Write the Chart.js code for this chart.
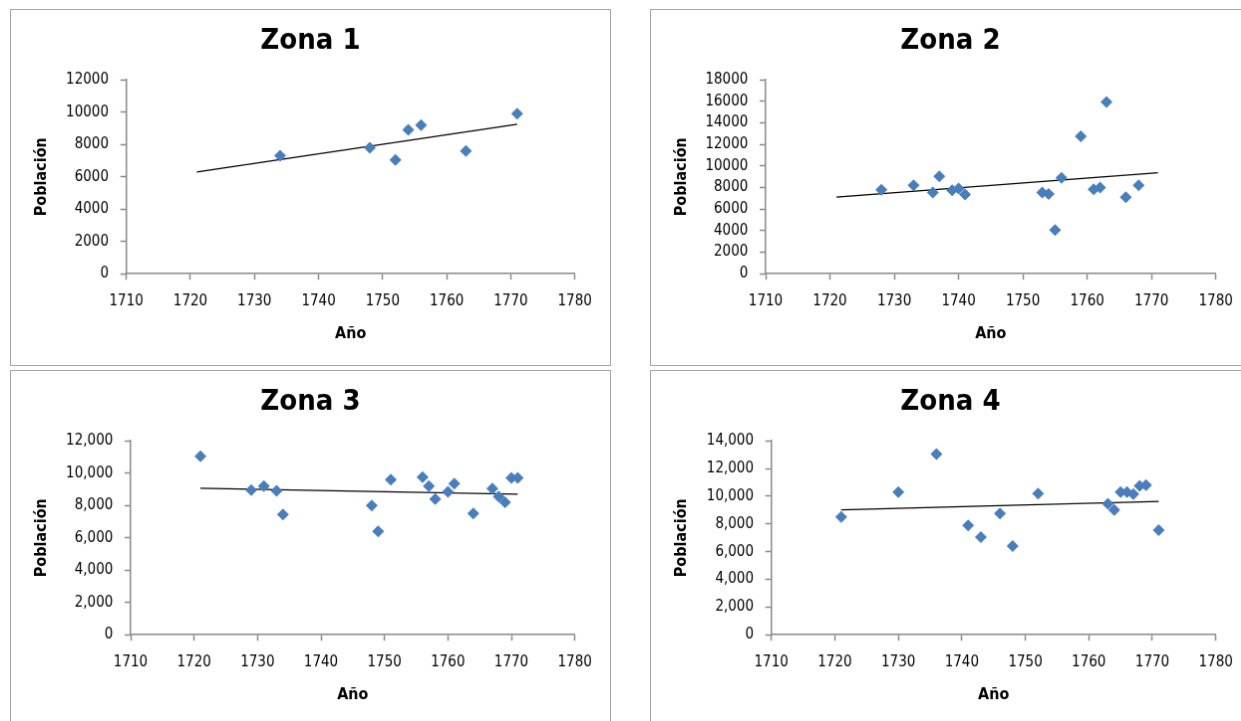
<!DOCTYPE html>
<html><head><meta charset="utf-8">
<script src="https://cdn.jsdelivr.net/npm/chart.js@4.4.0/dist/chart.umd.min.js"></script>
<style>
html,body{margin:0;padding:0;background:#fff;width:1241px;height:721px;overflow:hidden;position:relative}
canvas{position:absolute;border:1px solid #a6a6a6;background:#fff}
</style></head><body>
<canvas id="c1" width="601" height="357" style="left:10px;top:9px"></canvas>
<canvas id="c2" width="601" height="357" style="left:650px;top:9px"></canvas>
<canvas id="c3" width="601" height="357" style="left:10px;top:370px"></canvas>
<canvas id="c4" width="601" height="357" style="left:650px;top:370px"></canvas>
<script>
// ---- data ----
const xTickYears = [1710, 1720, 1730, 1740, 1750, 1760, 1770, 1780];
const trendRange = [1721, 1771];

const zona1Years = [1734, 1748, 1752, 1754, 1756, 1763, 1771];
const zona1Pop   = [7300, 7800, 7050, 8900, 9200, 7600, 9900];
const zona1YTicks = [0, 2000, 4000, 6000, 8000, 10000, 12000];

const zona2Years = [1728, 1733, 1736, 1737, 1739, 1740, 1741, 1753, 1754, 1755, 1756, 1759, 1761, 1762, 1763, 1766, 1768];
const zona2Pop   = [7800, 8200, 7550, 9050, 7750, 7900, 7350, 7550, 7400, 4050, 8900, 12750, 7850, 8000, 15950, 7100, 8200];
const zona2YTicks = [0, 2000, 4000, 6000, 8000, 10000, 12000, 14000, 16000, 18000];

const zona3Years = [1721, 1729, 1731, 1733, 1734, 1748, 1749, 1751, 1756, 1757, 1758, 1760, 1761, 1764, 1767, 1768, 1769, 1770, 1771];
const zona3Pop   = [11050, 8950, 9200, 8900, 7450, 8000, 6400, 9600, 9750, 9200, 8400, 8850, 9350, 7500, 9050, 8550, 8200, 9700, 9700];
const zona3YTicks = [0, 2000, 4000, 6000, 8000, 10000, 12000];

const zona4Years = [1721, 1730, 1736, 1741, 1743, 1746, 1748, 1752, 1763, 1764, 1765, 1766, 1767, 1768, 1769, 1771];
const zona4Pop   = [8500, 10300, 13050, 7900, 7050, 8750, 6400, 10200, 9450, 9000, 10300, 10300, 10150, 10750, 10800, 7550];
const zona4YTicks = [0, 2000, 4000, 6000, 8000, 10000, 12000, 14000];

const titles = ['Zona 1', 'Zona 2', 'Zona 3', 'Zona 4'];
const xTitle = 'Año';
const yTitle = 'Población';

// ---- drawing ----
const FONT = "'DejaVu Sans Condensed', 'DejaVu Sans', sans-serif";
const AXIS = '#8a8a8a';
const BLUE = '#4A7EBB';

function linReg(xs, ys) {
  const n = xs.length;
  let sx = 0, sy = 0;
  for (let i = 0; i < n; i++) { sx += xs[i]; sy += ys[i]; }
  const mx = sx / n, my = sy / n;
  let num = 0, den = 0;
  for (let i = 0; i < n; i++) { num += (xs[i] - mx) * (ys[i] - my); den += (xs[i] - mx) ** 2; }
  const m = num / den;
  return { m, b: my - m * mx };
}

function makeChart(id, title, years, pops, yTicks, useComma, yWidth, rightPad) {
  const reg = linReg(years, pops);
  const fmt = v => useComma ? Number(v).toLocaleString('en-US') : String(v);
  new Chart(document.getElementById(id), {
    type: 'scatter',
    data: {
      datasets: [
        {
          type: 'line',
          data: trendRange.map(x => ({ x, y: reg.b + reg.m * x })),
          borderColor: '#000', borderWidth: 1.3, pointRadius: 0, fill: false, order: 2,
          xAxisID: 'x', yAxisID: 'y'
        },
        {
          data: years.map((x, i) => ({ x, y: pops[i] })),
          pointStyle: 'rectRot', pointRadius: 6, borderWidth: 0,
          backgroundColor: BLUE, borderColor: BLUE, order: 1,
          xAxisID: 'x', yAxisID: 'y'
        }
      ]
    },
    options: {
      responsive: false, animation: false, events: [],
      layout: { padding: 0 },
      plugins: {
        legend: { display: false },
        tooltip: { enabled: false },
        title: {
          display: true, text: title, color: '#000',
          font: { family: FONT, size: 29, weight: 'bold', lineHeight: 1.2 },
          padding: { top: 14.3, bottom: 21.1 }
        }
      },
      scales: {
        x: {
          type: 'linear', min: xTickYears[0], max: xTickYears[xTickYears.length - 1],
          afterBuildTicks: s => { s.ticks = xTickYears.map(v => ({ value: v })); },
          afterFit: s => { s.height = 91.8; },
          ticks: { callback: v => String(v), font: { family: FONT, size: 15 }, color: '#000', padding: 12.8, maxRotation: 0, autoSkip: false },
          grid: { drawOnChartArea: false, drawTicks: true, tickLength: 6, color: AXIS, tickColor: AXIS, tickWidth: 1.5 },
          border: { display: true, color: AXIS, width: 1.5 },
          title: { display: true, text: xTitle, color: '#000', font: { family: FONT, size: 16, weight: 'bold', lineHeight: 1.2 }, padding: { top: 0, bottom: 21.4 } }
        },
        y: {
          type: 'linear', position: 'left', min: yTicks[0], max: yTicks[yTicks.length - 1],
          afterBuildTicks: s => { s.ticks = yTicks.map(v => ({ value: v })); },
          afterFit: s => { s.width = yWidth; },
          ticks: { callback: v => fmt(v), font: { family: FONT, size: 15 }, color: '#000', padding: 11.7, autoSkip: false },
          grid: { drawOnChartArea: false, drawTicks: true, tickLength: 6, color: AXIS, tickColor: AXIS, tickWidth: 1.5 },
          border: { display: true, color: AXIS, width: 1.5 },
          title: { display: true, text: yTitle, color: '#000', font: { family: FONT, size: 16, weight: 'bold', lineHeight: 1.2 }, padding: { top: 21.4, bottom: 0 } }
        },
        // empty spacer on the right so the chart title centres on the whole panel
        spacer: {
          type: 'linear', position: 'right', display: true,
          afterFit: s => { s.width = rightPad; },
          ticks: { display: false },
          grid: { display: false, drawTicks: false },
          border: { display: false },
          title: { display: false }
        }
      }
    }
  });
}

makeChart('c1', titles[0], zona1Years, zona1Pop, zona1YTicks, false, 115.7, 35.3);
makeChart('c2', titles[1], zona2Years, zona2Pop, zona2YTicks, false, 115, 34.3);
makeChart('c3', titles[2], zona3Years, zona3Pop, zona3YTicks, true, 120, 35.3);
makeChart('c4', titles[3], zona4Years, zona4Pop, zona4YTicks, true, 120.7, 34.3);
</script>
</body></html>
